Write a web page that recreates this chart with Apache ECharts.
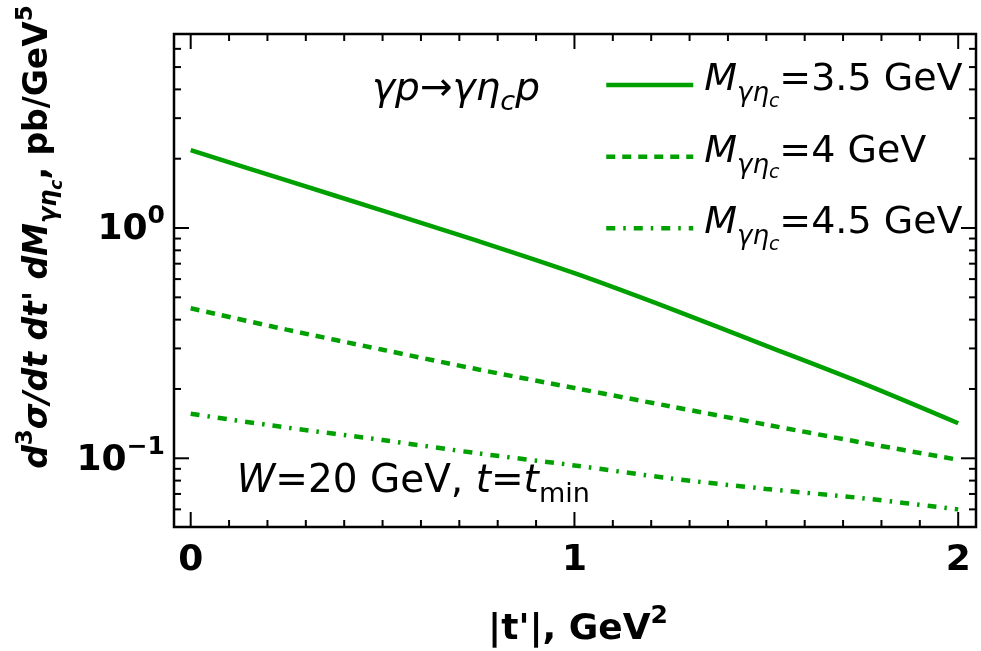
<!DOCTYPE html>
<html><head><meta charset="utf-8">
<script src="https://cdn.jsdelivr.net/npm/echarts@6/dist/echarts.min.js"></script>
<style>html,body{margin:0;padding:0;background:#fff}#c{width:981px;height:651px}</style>
</head><body><div id="c"></div>
<script>
// ---------------- data ----------------
const tValues = [0, 0.25, 0.5, 0.75, 1.0, 1.25, 1.5, 1.75, 2.0];
const sigmaM35 = [2.18, 1.61, 1.19, 0.877, 0.637, 0.447, 0.308, 0.212, 0.142];
const sigmaM40 = [0.448, 0.362, 0.296, 0.243, 0.202, 0.168, 0.140, 0.117, 0.0985];
const sigmaM45 = [0.156, 0.136, 0.120, 0.105, 0.0931, 0.0818, 0.0736, 0.0671, 0.0600];
const seriesNames = ['M=3.5 GeV', 'M=4 GeV', 'M=4.5 GeV'];
const massLabels = ['3.5', '4', '4.5'];
const xTickValues = [0, 1, 2];
const xTickLabels = ['0', '1', '2'];
const xMinorTicks = [0.1,0.2,0.3,0.4,0.5,0.6,0.7,0.8,0.9,1.1,1.2,1.3,1.4,1.5,1.6,1.7,1.8,1.9];
const yTickExponents = [-1, 0];
const yTickExpLabels = ['\u22121', '0'];
const yMajorTicks = [0.1, 1];
const yMinorTicks = [0.06,0.07,0.08,0.09,0.2,0.3,0.4,0.5,0.6,0.7,0.8,0.9,2,3,4,5,6];

// ---------------- styles ----------------
const GREEN = '#00a000';
const FF = 'DejaVu Sans';
const LW = 4.5;
const lineTypes = ['solid', [9, 7], [9, 8, 2.5, 8]];
const allSigma = [sigmaM35, sigmaM40, sigmaM45];

function tok(fs, dy, K, L, o) {
  const pad = Math.max(0, K + dy - 0.846 * fs);
  const p = (o && o.padLeft) ? o.padLeft : 0;
  const s = {fontFamily: FF, fontSize: fs, lineHeight: L, height: fs, verticalAlign: 'top',
    padding: [pad, 0, 0, p], color: '#000', fill: '#000'};
  if (o) { if (o.w) s.fontWeight = o.w; if (o.st) s.fontStyle = o.st; }
  return s;
}

const chart = echarts.init(document.getElementById('c'), null, {renderer: 'canvas'});

// legend rich
const LK = 38.3, LL = 60;
const legendRich = {
  mi: tok(38, 0, LK, LL, {st: 'italic', padLeft: 6}),
  sub: tok(26, 10, LK, LL, {st: 'italic'}),
  ss: tok(19, 15, LK, LL, {st: 'italic'}),
  n: tok(38, 0, LK, LL, {})
};
const legendLineY = [85, 156.7, 228.3];

const legends = seriesNames.map((nm, i) => ({
  data: [nm], left: 604, top: legendLineY[i] - LL / 2, padding: 0,
  itemWidth: 87, itemHeight: 14, selectedMode: false, orient: 'vertical',
  lineStyle: {color: GREEN, width: LW, type: lineTypes[i], opacity: 1},
  itemStyle: {color: 'rgba(0,0,0,0)', borderWidth: 0, opacity: 0},
  formatter: () => '{mi|M}{sub|\u03b3\u03b7}{ss|c}{n|=' + massLabels[i] + ' GeV}',
  textStyle: {fontFamily: FF, fontSize: 38, color: '#000', rich: legendRich}
}));

const series = seriesNames.map((nm, i) => ({
  type: 'line', name: nm,
  data: tValues.map((t, j) => [t, allSigma[i][j]]),
  symbol: 'none', showSymbol: false, smooth: 0.3, z: 3,
  lineStyle: {color: GREEN, width: LW, type: lineTypes[i], cap: 'butt'},
  itemStyle: {color: GREEN}
}));

const MAJ = 15, MIN = 7;
series.push({
  type: 'custom', coordinateSystem: 'cartesian2d', silent: true, z: 6,
  data: [[0, 1]],
  renderItem: function (params, api) {
    const cs = params.coordSys;
    const Lx = cs.x, Rx = cs.x + cs.width, Ty = cs.y, By = cs.y + cs.height;
    const ch = [];
    const st = {stroke: '#000', lineWidth: 2};
    function seg(x1, y1, x2, y2) { ch.push({type: 'line', shape: {x1, y1, x2, y2}, style: st}); }
    xTickValues.forEach(v => { const px = api.coord([v, 1])[0]; seg(px, By, px, By - MAJ); seg(px, Ty, px, Ty + MAJ); });
    xMinorTicks.forEach(v => { const px = api.coord([v, 1])[0]; seg(px, By, px, By - MIN); seg(px, Ty, px, Ty + MIN); });
    yMajorTicks.forEach(v => { const py = api.coord([0, v])[1]; seg(Lx, py, Lx + MAJ, py); seg(Rx, py, Rx - MAJ, py); });
    yMinorTicks.forEach(v => { const py = api.coord([0, v])[1]; seg(Lx, py, Lx + MIN, py); seg(Rx, py, Rx - MIN, py); });
    return {type: 'group', children: ch};
  }
});

// y-axis label rich
const YK = 38.5, YL = 48;
const yRich = { b: tok(36, 0, YK, YL, {w: 'bold'}), s: tok(25, -17, YK, YL, {w: 'bold'}) };

// graphic texts
const XK = 40, XL = 50;
const xTitleRich = { n: tok(36, 0, XK, XL, {w: 'bold'}), sup: tok(25, -17, XK, XL, {w: 'bold'}) };
const TK = 38, TL = 50;
const yTitleRich = {
  bi: tok(33, 0, TK, TL, {w: 'bold', st: 'italic'}),
  sup: tok(23, -16, TK, TL, {w: 'bold'}),
  sub: tok(24, 8, TK, TL, {w: 'bold', st: 'italic'}),
  ss: tok(17, 13, TK, TL, {w: 'bold', st: 'italic'}),
  n: tok(33, 0, TK, TL, {w: 'bold'})
};
const AK = 40, AL = 50;
const annRich = {
  i: tok(39, 0, AK, AL, {st: 'italic'}),
  n: tok(39, 0, AK, AL, {}),
  sub: tok(27, 9, AK, AL, {st: 'italic'}),
  subn: tok(27, 9, AK, AL, {})
};

const option = {
  backgroundColor: '#fff',
  animation: false,
  grid: {left: 174, top: 34, width: 802, height: 493, show: true, borderColor: '#000', borderWidth: 2.5,
         backgroundColor: 'transparent', containLabel: false, outerBoundsMode: 'none'},
  xAxis: {
    type: 'value', min: -0.0435, max: 2.0464,
    axisLine: {show: false}, axisTick: {show: false}, splitLine: {show: false},
    axisLabel: {
      margin: 16, fontFamily: FF, fontSize: 36, fontWeight: 'bold', color: '#000',
      formatter: function (v) {
        for (let k = 0; k < xTickValues.length; k++) if (Math.abs(v - xTickValues[k]) < 1e-9) return xTickLabels[k];
        return '';
      }
    }
  },
  yAxis: {
    type: 'log', logBase: 10, min: 0.0503, max: 6.96,
    axisLine: {show: false}, axisTick: {show: false}, splitLine: {show: false}, minorTick: {show: false},
    axisLabel: {
      margin: 9, color: '#000', fontFamily: FF, rich: yRich,
      formatter: function (v) {
        const e = Math.log10(v); const r = Math.round(e);
        if (Math.abs(e - r) > 1e-6) return '';
        const idx = yTickExponents.indexOf(r);
        if (idx < 0) return '';
        return '{b|10}{s|' + yTickExpLabels[idx] + '}';
      }
    }
  },
  legend: legends,
  series: series,
  graphic: [
    {type: 'text', x: 50 - TK, y: 237, rotation: Math.PI / 2, silent: true,
     style: {text: "{bi|d}{sup|3}{bi|\u03c3/dt dt' dM}{sub|\u03b3\u03b7}{ss|c}{n|, pb/GeV}{sup|5}",
             rich: yTitleRich, align: 'center', verticalAlign: 'top', fill: '#000'}},
    {type: 'text', x: 578, y: 641.7 - XK, silent: true,
     style: {text: "{n||t'|, GeV}{sup|2}", rich: xTitleRich, align: 'center', verticalAlign: 'top', fill: '#000'}},
    {type: 'text', x: 372, y: 103 - AK, silent: true,
     style: {text: '{i|\u03b3p\u2192\u03b3\u03b7}{sub|c}{i|p}', rich: annRich, align: 'left', verticalAlign: 'top', fill: '#000'}},
    {type: 'text', x: 236.7, y: 495 - AK, silent: true,
     style: {text: '{i|W}{n|=20 GeV, }{i|t}{n|=}{i|t}{subn|min}', rich: annRich, align: 'left', verticalAlign: 'top', fill: '#000'}}
  ]
};
chart.setOption(option);
</script>
</body></html>
